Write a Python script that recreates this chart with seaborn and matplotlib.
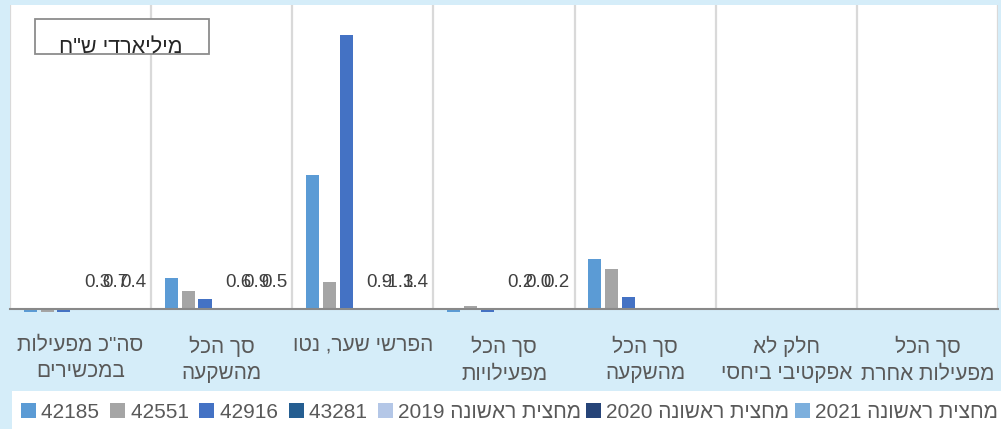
import numpy as np
import pandas as pd
import matplotlib
matplotlib.use("Agg")
import matplotlib.pyplot as plt
import seaborn as sns
from matplotlib.patches import Patch, Rectangle

# ---------------- data ----------------
categories = [
    ["סה\"כ מפעילות", "במכשירים"],
    ["סך הכל", "מהשקעה"],
    ["הפרשי שער, נטו"],
    ["סך הכל", "מפעילויות"],
    ["סך הכל", "מהשקעה"],
    ["חלק לא", "אפקטיבי ביחסי"],
    ["סך הכל", "מפעילות אחרת"],
]
series_names = ["42185", "42551", "42916", "43281",
                "מחצית ראשונה 2019", "מחצית ראשונה 2020", "מחצית ראשונה 2021"]
values_42185 = [-0.09, 1.03, 4.42, -0.09, 1.64, 0.0, 0.0]
values_42551 = [-0.09, 0.61, 0.91, 0.12, 1.32, 0.0, 0.0]
values_42916 = [-0.09, 0.33, 9.00, -0.09, 0.41, 0.0, 0.0]
values_43281 = [0.0, 0.0, 0.0, 0.0, 0.0, 0.0, 0.0]
values_h2019 = [0.0, 0.0, 0.0, 0.0, 0.0, 0.0, 0.0]
values_h2020 = [0.0, 0.0, 0.0, 0.0, 0.0, 0.0, 0.0]
values_h2021 = [0.0, 0.0, 0.0, 0.0, 0.0, 0.0, 0.0]
labels_h2019 = ["0.3", "0.6", "0.9", "0.2", "", "", ""]
labels_h2020 = ["0.7", "0.9", "-1.3", "0.0", "", "", ""]
labels_h2021 = ["0.4", "0.5", "1.4", "0.2", "", "", ""]
y_title = "מיליארדי ש\"ח"
colors = ["#5B9BD5", "#A5A5A5", "#4472C4", "#255E91", "#B4C7E7", "#264478", "#7CAFDD"]


def visual(s):
    """Convert logical RTL text to visual order (numbers kept LTR)."""
    words = s.split(" ")
    heb = [w for w in words if not w.isdigit()]
    nums = [w for w in words if w.isdigit()]
    out = " ".join(heb)[::-1]
    if nums:
        out = " ".join(nums) + " " + out
    return out


cat_keys = ["c%d" % i for i in range(len(categories))]
all_vals = [values_42185, values_42551, values_42916, values_43281,
            values_h2019, values_h2020, values_h2021]
rows = []
for name, vals in zip(series_names, all_vals):
    for ck, v in zip(cat_keys, vals):
        rows.append({"cat": ck, "series": name, "value": v})
df = pd.DataFrame(rows)

# ---------------- style ----------------
sns.set_style("white")
plt.rcParams["font.family"] = ["Liberation Sans", "DejaVu Sans"]

BG = "#D5EDF9"
fig = plt.figure(figsize=(10.01, 4.29), dpi=100, facecolor=BG)
W, H = 1001, 429
ax = fig.add_axes([10 / W, (H - 309.3) / H, 988 / W, (309.3 - 5) / H])
ax.set_facecolor("white")

n_ser = len(series_names)
total_w = 0.83
sns.barplot(data=df, x="cat", y="value", hue="series", order=cat_keys,
            hue_order=series_names, palette=colors, width=total_w, gap=0.22,
            dodge=True, ax=ax, legend=False, errorbar=None, saturation=1)
for p in ax.patches:
    p.set_clip_on(False)
    p.set_linewidth(0)

ax.set_xlim(-0.5, len(categories) - 0.5)
ax.set_ylim(0, 10)
ax.set_yticks([])
ax.set_xlabel("")
ax.set_ylabel("")

# vertical separators
for b in np.arange(-0.5, len(categories), 1.0):
    ax.axvline(b, color="#D9D9D9", lw=1.6, zorder=0)
for s in ["top", "left", "right"]:
    ax.spines[s].set_visible(False)
ax.spines["bottom"].set_color("#898989")
ax.spines["bottom"].set_linewidth(1.5)
ax.spines["bottom"].set_zorder(5)

ax.set_xticks(range(len(categories)))
ax.set_xticklabels(["\n".join(visual(l) for l in lines) for lines in categories],
                   fontsize=15, color="#595959", linespacing=1.5, va="top")
ax.tick_params(axis="x", length=0, pad=19)

# data labels (overlapping, as in the original)
slot = total_w / n_ser
for k, labs in zip([4, 5, 6], [labels_h2019, labels_h2020, labels_h2021]):
    for i, t in enumerate(labs):
        if t:
            ax.annotate(t, xy=(i + (k - (n_ser - 1) / 2) * slot * 1.08, 0),
                        xytext=(-1, 19), textcoords="offset points",
                        ha="center", va="center", fontsize=13.5,
                        color="#404040", zorder=6)

# axis title box
fig.patches.append(Rectangle((35 / W, (H - 54) / H), 174 / W, 35 / H,
                             transform=fig.transFigure, facecolor="white",
                             edgecolor="#8C8C8C", lw=1.3, zorder=3))
fig.text(121 / W, (H - 53) / H, visual(y_title), ha="center", va="baseline",
         fontsize=15.5, color="#262626", zorder=4)

# legend
fig.patches.append(Rectangle((12 / W, 0), 989 / W, 38 / H,
                             transform=fig.transFigure, facecolor="white",
                             edgecolor="none", zorder=1))
handles = [Patch(facecolor=c, edgecolor="none") for c in colors]
leg = fig.legend(handles, [visual(n) for n in series_names], ncol=n_ser,
                 loc="center left", bbox_to_anchor=(21 / W, 17 / H),
                 frameon=False, fontsize=15, handlelength=0.72,
                 handleheight=0.72, handletextpad=0.26, columnspacing=0.24,
                 borderaxespad=0, borderpad=0)
for t in leg.get_texts():
    t.set_color("#595959")

fig.savefig("out.png", dpi=100, facecolor=BG)
